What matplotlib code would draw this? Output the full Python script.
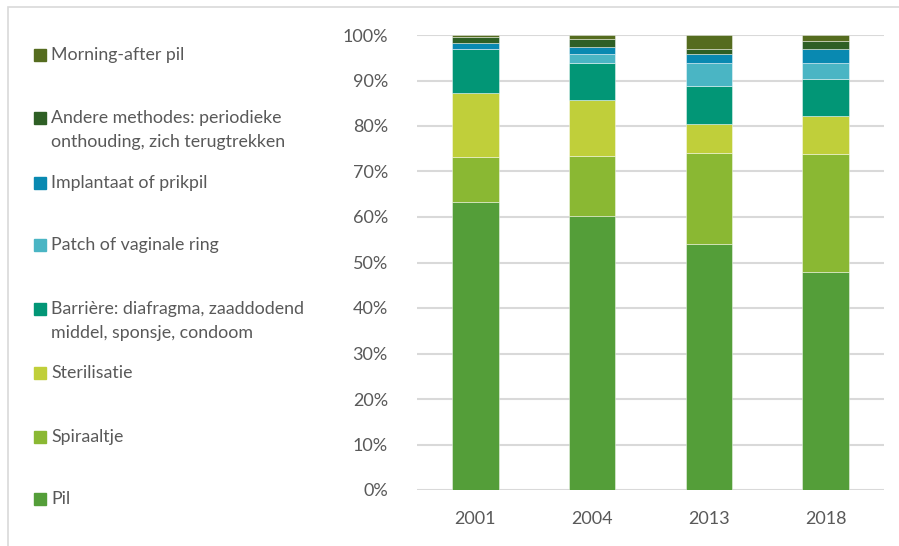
import matplotlib
matplotlib.use("Agg")
import matplotlib.pyplot as plt
from matplotlib.patches import Rectangle
import numpy as np

years = ["2001", "2004", "2013", "2018"]
categories = ["Pil", "Spiraaltje", "Sterilisatie",
              "Barrière: diafragma, zaaddodend\nmiddel, sponsje, condoom",
              "Patch of vaginale ring", "Implantaat of prikpil",
              "Andere methodes: periodieke\nonthouding, zich terugtrekken",
              "Morning-after pil"]
pil = [63.2, 60.2, 54.0, 48.0]
spiraaltje = [10.0, 13.3, 20.1, 25.9]
sterilisatie = [14.1, 12.2, 6.4, 8.35]
barriere = [9.7, 8.1, 8.35, 8.05]
patch = [0.0, 2.05, 5.0, 3.65]
implantaat = [1.3, 1.45, 1.9, 3.0]
andere = [1.2, 1.75, 1.2, 1.75]
morning_after = [0.5, 0.9, 3.05, 1.3]
series = [pil, spiraaltje, sterilisatie, barriere, patch, implantaat, andere, morning_after]
colors = ["#549E39", "#8AB833", "#C0CF3A", "#029676", "#4AB5C4", "#0989B1", "#2E5F25", "#556C1F"]

text_color = "#595959"
grid_color = "#D9D9D9"
plt.rcParams['font.family'] = ['Lato', 'DejaVu Sans']

fig = plt.figure(figsize=(8.99, 5.46), dpi=100)
ax = fig.add_axes([417/899, 56/546, 467/899, 455/546])

x = np.arange(len(years))
bottom = np.zeros(len(years))
for vals, col in zip(series, colors):
    v = np.array(vals) / 100.0
    ax.bar(x, v, bottom=bottom, width=0.4, color=col, edgecolor=(1, 1, 1, 0.6),
           linewidth=0.5, zorder=3)
    bottom += v

ax.set_xlim(-0.5, len(years) - 0.5)
ax.set_ylim(0, 1)
ticks = np.arange(0, 1.01, 0.1)
ax.set_yticks(ticks)
ax.set_yticklabels([f"{int(round(t*100))}%" for t in ticks])
ax.set_xticks(x)
ax.set_xticklabels(years)
ax.tick_params(axis='both', length=0, colors=text_color, labelsize=13)
ax.tick_params(axis='y', pad=21)
ax.tick_params(axis='x', pad=15)
ax.yaxis.grid(True, color=grid_color, linewidth=1.5, zorder=0)
ax.set_axisbelow(True)
for s in ax.spines.values():
    s.set_visible(False)

# legend (manual, on the left)
legend_y = [499, 437, 373, 309, 245, 183, 118, 55]
for label, col, yy in zip(categories, colors, legend_y):
    fig.patches.append(Rectangle((34/899, (546-yy-6)/546), 12/899, 12/546,
                                 transform=fig.transFigure, color=col))
    if '\n' in label:
        fig.text(51/899, (546-yy+8)/546, label, color=text_color, fontsize=12.8,
                 va='top', ha='left', linespacing=1.6)
    else:
        fig.text(51/899, (546-yy)/546, label, color=text_color, fontsize=12.8,
                 va='center', ha='left')

# chart area border
fig.patches.append(Rectangle((8/899, -0.1), 1.2, (546-7)/546 + 0.1,
                             transform=fig.transFigure, fill=False,
                             edgecolor=grid_color, linewidth=1.2))

fig.savefig("out.png", dpi=100)
